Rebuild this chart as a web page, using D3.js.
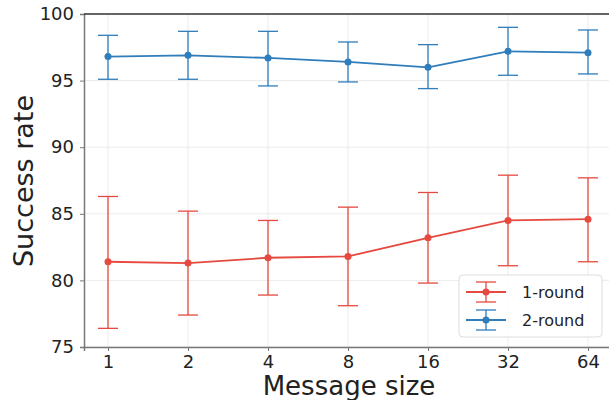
<!DOCTYPE html>
<html>
<head>
<meta charset="utf-8">
<script src="https://d3js.org/d3.v7.min.js"></script>
<style>
  body { margin: 0; background: #fff; }
  svg { display: block; font-family: 'DejaVu Sans', sans-serif; }
</style>
</head>
<body>
<div id="chart"></div>
<script>
// message sizes on the x axis
const categories = ["1", "2", "4", "8", "16", "32", "64"];
const yTicks = [75, 80, 85, 90, 95, 100];

// 1-round: mean, lower, upper
const oneRoundMean = [81.4, 81.3, 81.7, 81.8, 83.2, 84.5, 84.6];
const oneRoundLow  = [76.4, 77.4, 78.9, 78.1, 79.8, 81.1, 81.4];
const oneRoundHigh = [86.3, 85.2, 84.5, 85.5, 86.6, 87.9, 87.7];

// 2-round: mean, lower, upper
const twoRoundMean = [96.8, 96.9, 96.7, 96.4, 96.0, 97.2, 97.1];
const twoRoundLow  = [95.1, 95.1, 94.6, 94.9, 94.4, 95.4, 95.5];
const twoRoundHigh = [98.4, 98.7, 98.7, 97.9, 97.7, 99.0, 98.8];

const width = 609, height = 400;
const margin = { top: 14, left: 84, bottom: 347 };

const series = [
    { name: "1-round", color: "#e6493f", mean: oneRoundMean, low: oneRoundLow, high: oneRoundHigh },
    { name: "2-round", color: "#2f7dba", mean: twoRoundMean, low: twoRoundLow, high: twoRoundHigh }
];

const svg = d3.select("#chart").append("svg")
    .attr("width", width)
    .attr("height", height);

// index scale, padded like matplotlib's default margins
const x = d3.scaleLinear()
    .domain([-0.3, categories.length - 1 + 0.3])
    .range([margin.left, 612]);

const y = d3.scaleLinear()
    .domain([75, 100])
    .range([margin.bottom, margin.top]);

// grid
const grid = svg.append("g").attr("class", "grid");
grid.selectAll("line.v")
    .data(categories)
    .enter().append("line")
    .attr("x1", (d, i) => x(i)).attr("x2", (d, i) => x(i))
    .attr("y1", y(75)).attr("y2", y(100))
    .attr("stroke", "#ebebeb").attr("stroke-width", 1);
grid.selectAll("line.h")
    .data(yTicks)
    .enter().append("line")
    .attr("x1", x.range()[0]).attr("x2", x.range()[1])
    .attr("y1", d => y(d)).attr("y2", d => y(d))
    .attr("stroke", "#ebebeb").attr("stroke-width", 1);

// axes
const xAxis = d3.axisBottom(x)
    .tickValues(d3.range(categories.length))
    .tickFormat(i => categories[i])
    .tickSize(4)
    .tickPadding(4);

const yAxis = d3.axisLeft(y)
    .tickValues(yTicks)
    .tickSize(4)
    .tickPadding(6);

const gx = svg.append("g")
    .attr("transform", `translate(0,${margin.bottom})`)
    .call(xAxis);
const gy = svg.append("g")
    .attr("transform", `translate(${margin.left},0)`)
    .call(yAxis);

[gx, gy].forEach(g => {
    g.select(".domain").attr("stroke", "#777").attr("stroke-width", 1.5);
    g.selectAll(".tick line").attr("stroke", "#777");
    g.selectAll(".tick text")
        .attr("fill", "#222")
        .style("font-size", "18px")
        .style("font-family", "'DejaVu Sans', sans-serif");
});

// top spine
svg.append("line")
    .attr("x1", x.range()[0]).attr("x2", x.range()[1])
    .attr("y1", y(100)).attr("y2", y(100))
    .attr("stroke", "#333").attr("stroke-width", 1.5);

// axis labels
svg.append("text")
    .attr("x", 349).attr("y", 395)
    .attr("text-anchor", "middle")
    .attr("fill", "#222")
    .style("font-size", "26px")
    .text("Message size");

svg.append("text")
    .attr("transform", "translate(33,181) rotate(-90)")
    .attr("text-anchor", "middle")
    .attr("fill", "#222")
    .style("font-size", "27px")
    .text("Success rate");

// series
const capHalf = 10;
const line = d3.line().x((d, i) => x(i)).y(d => y(d));

series.forEach(s => {
    const g = svg.append("g");
    const idx = d3.range(categories.length);

    g.selectAll("line.err")
        .data(idx)
        .enter().append("line")
        .attr("x1", i => x(i)).attr("x2", i => x(i))
        .attr("y1", i => y(s.low[i])).attr("y2", i => y(s.high[i]))
        .attr("stroke", s.color).attr("stroke-width", 1.3);

    ["low", "high"].forEach(k => {
        g.selectAll("line.cap-" + k)
            .data(idx)
            .enter().append("line")
            .attr("x1", i => x(i) - capHalf).attr("x2", i => x(i) + capHalf)
            .attr("y1", i => y(s[k][i])).attr("y2", i => y(s[k][i]))
            .attr("stroke", s.color).attr("stroke-width", 1.3);
    });

    g.append("path")
        .datum(s.mean)
        .attr("d", line)
        .attr("fill", "none")
        .attr("stroke", s.color)
        .attr("stroke-width", 1.8);

    g.selectAll("circle")
        .data(s.mean)
        .enter().append("circle")
        .attr("cx", (d, i) => x(i))
        .attr("cy", d => y(d))
        .attr("r", 3.5)
        .attr("fill", s.color);
});

// legend
const legend = svg.append("g").attr("transform", "translate(459,275)");
legend.append("rect")
    .attr("width", 143).attr("height", 62)
    .attr("rx", 4)
    .attr("fill", "#fff").attr("fill-opacity", 0.85)
    .attr("stroke", "#ddd");

series.forEach((s, i) => {
    const cy = 17 + i * 28;
    const g = legend.append("g").attr("transform", `translate(27,${cy})`);
    g.append("line").attr("x1", -20).attr("x2", 20).attr("y1", 0).attr("y2", 0)
        .attr("stroke", s.color).attr("stroke-width", 1.8);
    g.append("line").attr("x1", 0).attr("x2", 0).attr("y1", -10).attr("y2", 10)
        .attr("stroke", s.color).attr("stroke-width", 1.3);
    [-10, 10].forEach(dy => g.append("line")
        .attr("x1", -10).attr("x2", 10).attr("y1", dy).attr("y2", dy)
        .attr("stroke", s.color).attr("stroke-width", 1.3));
    g.append("circle").attr("r", 3.5).attr("fill", s.color);
    legend.append("text")
        .attr("x", 63).attr("y", cy + 6)
        .attr("fill", "#222")
        .style("font-size", "16px")
        .text(s.name);
});
</script>
</body>
</html>
